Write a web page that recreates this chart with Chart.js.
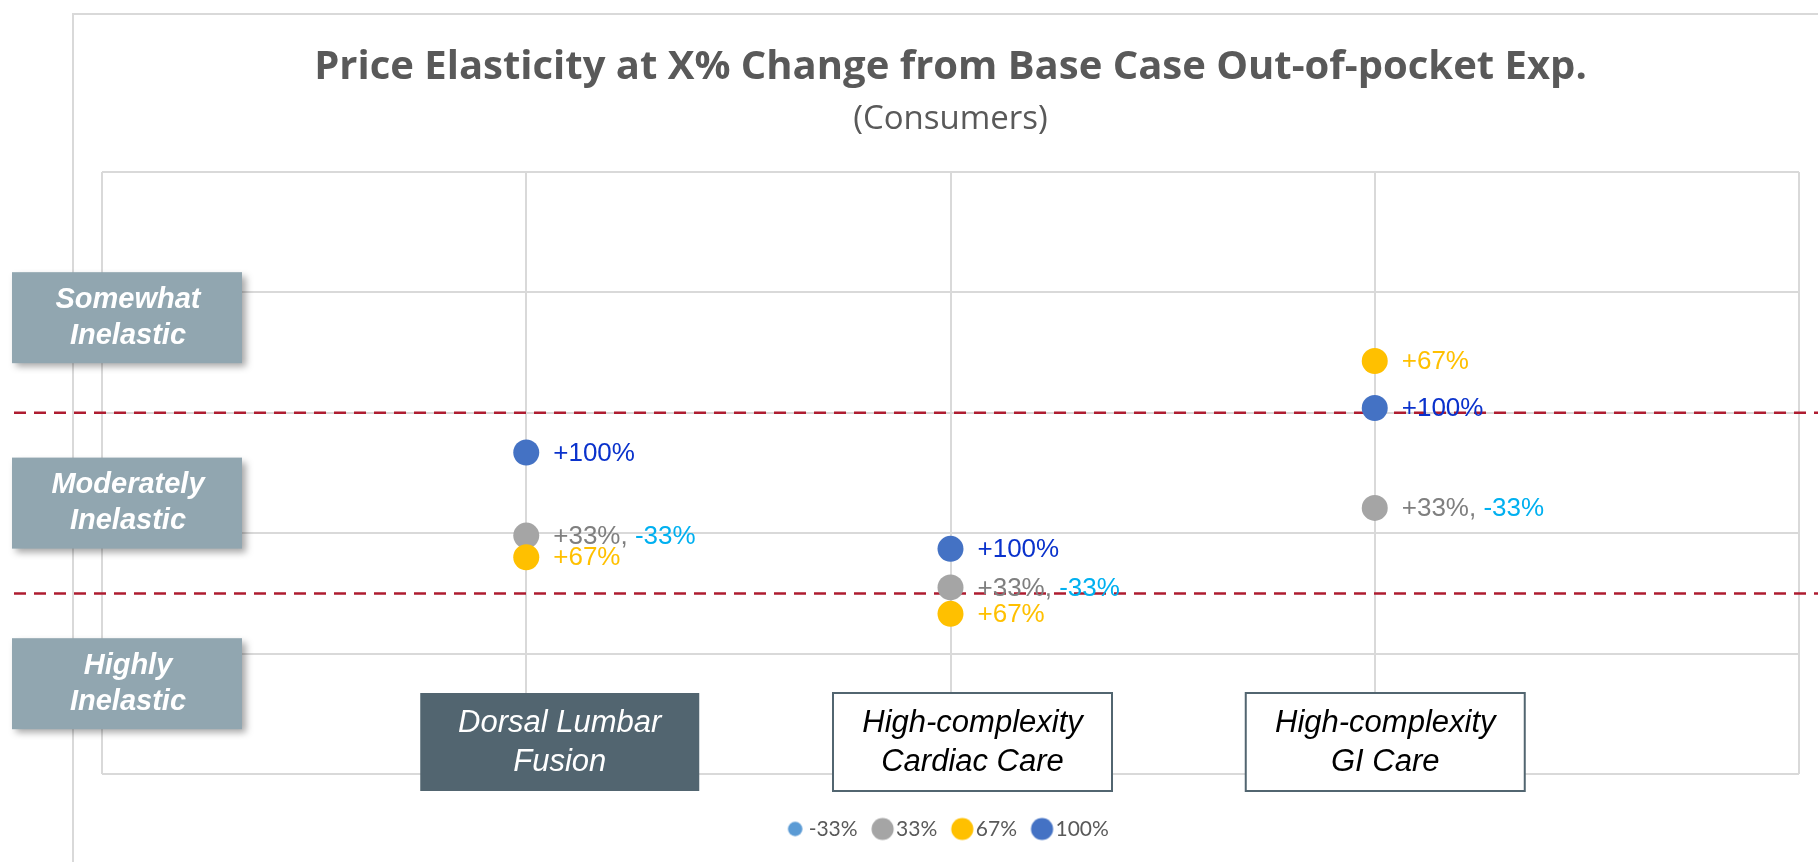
<!DOCTYPE html>
<html>
<head>
<meta charset="utf-8">
<script src="https://cdn.jsdelivr.net/npm/chart.js@4.4.1/dist/chart.umd.min.js"></script>
<style>
  html, body { margin: 0; padding: 0; background: #fff; }
</style>
</head>
<body>
<canvas id="elasticityChart" width="1818" height="862"></canvas>
<script>
// categories on the x axis (positions 1..3)
const categories = ["Dorsal Lumbar\nFusion", "High-complexity\nCardiac Care", "High-complexity\nGI Care"];
const categoryX = [1, 2, 3];

// series (elasticity score)
const seriesNames = ["-33%", "33%", "67%", "100%"];
const pointLabels = ["-33%", "+33%", "+67%", "+100%"];
const valuesMinus33 = [1.98, 1.55, 2.21];
const values33 = [1.98, 1.55, 2.21];
const values67 = [1.80, 1.33, 3.43];
const values100 = [2.67, 1.87, 3.04];

// y bands
const bandNames = ["Highly\nInelastic", "Moderately\nInelastic", "Somewhat\nInelastic"];
const bandCenters = [0.75, 2.25, 3.79];
const thresholds = [1.5, 3];

const pointColors = ["#5B9BD5", "#A5A5A5", "#FFC000", "#4472C4"];
const textColors = ["#00B0F0", "#7F7F7F", "#FFC000", "#0A32CC"];

function toPoints(vals) {
  return vals.map((v, i) => ({ x: categoryX[i], y: v }));
}

function markerImage(color, r) {
  const c = document.createElement("canvas");
  c.width = c.height = Math.ceil(r * 2) + 2;
  const g = c.getContext("2d");
  g.fillStyle = color;
  g.beginPath();
  g.arc(c.width / 2, c.height / 2, r, 0, Math.PI * 2);
  g.fill();
  return c;
}

// outer frame + dashed band limits
const frame = {
  id: "frame",
  beforeDraw(chart) {
    const ctx = chart.ctx;
    ctx.save();
    ctx.strokeStyle = "#D9D9D9";
    ctx.lineWidth = 2;
    ctx.beginPath();
    ctx.moveTo(73, chart.height);
    ctx.lineTo(73, 14);
    ctx.lineTo(chart.width, 14);
    ctx.stroke();
    ctx.restore();
  },
  beforeDatasetsDraw(chart) {
    const { ctx, scales } = chart;
    ctx.save();
    ctx.strokeStyle = "#AE1C30";
    ctx.lineWidth = 2.5;
    ctx.setLineDash([12, 8]);
    thresholds.forEach((t) => {
      const y = scales.y.getPixelForValue(t);
      ctx.beginPath();
      ctx.moveTo(14, y);
      ctx.lineTo(chart.width, y);
      ctx.stroke();
    });
    ctx.restore();
  },
};

// "+33%, -33%" style tags next to the markers
const pointTags = {
  id: "pointTags",
  afterDatasetsDraw(chart) {
    const { ctx, scales } = chart;
    ctx.save();
    ctx.font = '26px "Liberation Sans", Arial, sans-serif';
    ctx.textBaseline = "middle";
    categoryX.forEach((cx, i) => {
      const groups = [];
      chart.data.datasets.forEach((ds, d) => {
        const yv = ds.data[i].y;
        let g = groups.find((gr) => gr.y === yv);
        if (!g) {
          g = { y: yv, members: [] };
          groups.push(g);
        }
        g.members.unshift(d);
      });
      groups.forEach((g) => {
        let x = scales.x.getPixelForValue(cx) + 27;
        const y = scales.y.getPixelForValue(g.y) + 1;
        g.members.forEach((d, k) => {
          const piece = pointLabels[d] + (k < g.members.length - 1 ? ", " : "");
          ctx.fillStyle = textColors[d];
          ctx.fillText(piece, x, y);
          x += ctx.measureText(piece).width;
        });
      });
    });
    ctx.restore();
  },
};

// band boxes on the left and category boxes at the bottom
const boxes = {
  id: "boxes",
  afterDatasetsDraw(chart) {
    const { ctx, scales, chartArea } = chart;
    ctx.save();
    ctx.textAlign = "center";
    ctx.textBaseline = "middle";

    bandNames.forEach((name, i) => {
      const cy = scales.y.getPixelForValue(bandCenters[i]);
      const w = 230, h = 91, left = 12;
      ctx.save();
      ctx.shadowColor = "rgba(0,0,0,0.35)";
      ctx.shadowBlur = 7;
      ctx.shadowOffsetX = 4;
      ctx.shadowOffsetY = 4;
      ctx.fillStyle = "#91A6B0";
      ctx.fillRect(left, cy - h / 2, w, h);
      ctx.restore();
      ctx.fillStyle = "#FFFFFF";
      ctx.font = 'italic bold 29px "Liberation Sans", Arial, sans-serif';
      const lines = name.split("\n");
      ctx.fillText(lines[0], left + w / 2 + 1, cy - 18);
      ctx.fillText(lines[1], left + w / 2 + 1, cy + 18);
    });

    categories.forEach((name, i) => {
      const cx = scales.x.getPixelForValue(categoryX[i]) + 22 - (i - 1) * 11.5;
      const w = 279, h = 98, top = chartArea.bottom - 81;
      const dark = i === 0;
      ctx.fillStyle = dark ? "#526570" : "#FFFFFF";
      ctx.fillRect(cx - w / 2, top, w, h);
      if (!dark) {
        ctx.strokeStyle = "#526570";
        ctx.lineWidth = 2;
        ctx.strokeRect(cx - w / 2, top, w, h);
      }
      ctx.fillStyle = dark ? "#FFFFFF" : "#000000";
      ctx.font = 'italic 31px "Liberation Sans", Arial, sans-serif';
      const lines = name.split("\n");
      ctx.fillText(lines[0], cx, top + h / 2 - 18.5);
      ctx.fillText(lines[1], cx, top + h / 2 + 20);
    });
    ctx.restore();
  },
};

const ctx = document.getElementById("elasticityChart").getContext("2d");
const chart = new Chart(ctx, {
  type: "scatter",
  data: {
    datasets: [
      { label: seriesNames[0], data: toPoints(valuesMinus33), backgroundColor: pointColors[0], pointRadius: 8.5, order: 4 },
      { label: seriesNames[1], data: toPoints(values33), backgroundColor: pointColors[1], pointRadius: 13, order: 3 },
      { label: seriesNames[2], data: toPoints(values67), backgroundColor: pointColors[2], pointRadius: 13, order: 2 },
      { label: seriesNames[3], data: toPoints(values100), backgroundColor: pointColors[3], pointRadius: 13, order: 1 },
    ].map((ds) => Object.assign(ds, { borderWidth: 0, pointHoverRadius: ds.pointRadius })),
  },
  options: {
    responsive: false,
    animation: false,
    devicePixelRatio: 1,
    layout: { padding: { left: 102, right: 19, top: 0, bottom: 12.5 } },
    scales: {
      x: {
        type: "linear",
        min: 0,
        max: 4,
        ticks: { display: false, stepSize: 1 },
        grid: { color: "#D9D9D9", lineWidth: 2, drawTicks: false },
        border: { display: false },
        title: { display: true, text: "", font: { size: 10 }, padding: { top: 10.5, bottom: 0 } },
      },
      y: {
        min: 0,
        max: 5,
        ticks: { display: false, stepSize: 1 },
        grid: { color: "#D9D9D9", lineWidth: 2, drawTicks: false },
        border: { display: false },
      },
    },
    plugins: {
      title: {
        display: true,
        text: "Price Elasticity at X% Change from Base Case Out-of-pocket Exp.",
        color: "#595959",
        font: { family: "Open Sans", size: 40, weight: "bold" },
        padding: { top: 43.5, bottom: 0 },
      },
      subtitle: {
        display: true,
        text: "(Consumers)",
        color: "#595959",
        font: { family: "Open Sans", size: 33, weight: "normal" },
        padding: { top: 8.2, bottom: 32.7 },
      },
      legend: {
        position: "bottom",
        labels: {
          usePointStyle: true,
          boxWidth: 6,
          padding: 22,
          color: "#595959",
          font: { family: "Lato", size: 21 },
          generateLabels(ch) {
            return ch.data.datasets.map((ds, i) => ({
              text: ds.label,
              fillStyle: ds.backgroundColor,
              strokeStyle: ds.backgroundColor,
              lineWidth: 0,
              pointStyle: markerImage(ds.backgroundColor, ds.pointRadius * 0.85),
              hidden: false,
              datasetIndex: i,
              fontColor: "#595959",
            }));
          },
        },
      },
      tooltip: { enabled: false },
    },
  },
  plugins: [frame, pointTags, boxes],
});
</script>
</body>
</html>
